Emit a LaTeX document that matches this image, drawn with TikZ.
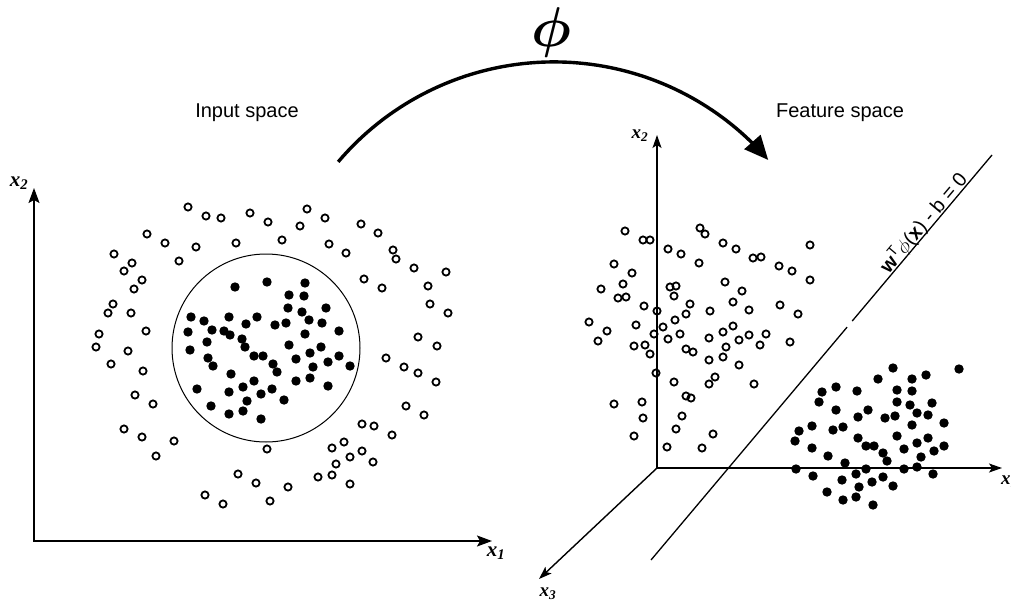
\RequirePackage{fix-cm}
\documentclass[tikz,border=0pt]{standalone}
\usepackage{bm}
\usepackage{fontspec}
\setmainfont{Liberation Sans}
\newfontfamily\tms{Liberation Serif}
\usetikzlibrary{arrows.meta,calc}
\begin{document}
\begin{tikzpicture}[x=1pt,y=-1pt,
  axisA/.style={line width=1.4pt,{Stealth[length=15pt,width=11pt,inset=3pt]}-{Stealth[length=15pt,width=11pt,inset=3pt]}},
  axisB/.style={line width=1.4pt,-{Stealth[length=13pt,width=9pt,inset=3pt]}},
  odot/.style={circle,draw,line width=1.8pt,minimum size=7.2pt,inner sep=0pt},
  fdot/.style={circle,fill,minimum size=9.4pt,inner sep=0pt},
  lab/.style={font=\tms\itshape\bfseries\fontsize{21}{21}\selectfont,inner sep=0pt},
  rlab/.style={font=\tms\itshape\bfseries\fontsize{19}{19}\selectfont,inner sep=0pt},
  title/.style={font=\fontsize{20}{20}\selectfont,inner sep=0pt},
  ]
\useasboundingbox (0,0) rectangle (1011,602);

% ---------- Input space ----------
\coordinate (O1) at (34,541);
\coordinate (Y1) at (34,188);
\coordinate (X1) at (492,541);
\draw[axisA] (Y1) -- (O1) -- (X1);
\node[lab] (lx2) at (19,183) {x\textsubscript{2}};
\node[lab] (lx1) at (496,553) {x\textsubscript{1}};
\node[title] (tin) at (247,113) {Input space};

\node[circle,draw,line width=1pt,minimum size=188pt,inner sep=0pt] (ring) at (266,348) {};

\foreach \p [count=\i] in {(188,207),(206,216),(221,218),(250,213),(268,222),(282,240),(147,234),(165,243),(196,247),(236,243),(114,254),(132,263),(124,271),(179,261),(142,280),(134,289),(113,304),(108,313),(131,313),(99,334),(146,331),(96,347),(128,351),(111,364),(143,371),(135,395),(153,404),(124,429),(142,437),(174,441),(156,456),(267,449),(238,474),(256,483),(205,495),(223,504),(270,501),
(307,209),(325,218),(300,226),(361,224),(378,233),(329,244),(346,253),(393,250),(396,259),(414,268),(446,272),(364,279),(382,288),(428,286),(430,304),(448,313),(418,337),
(437,346),(386,358),(404,367),(418,373),(436,382),(406,406),(424,415),(362,424),(374,426),(392,435),(344,442),(332,448),(362,451),(350,457),(336,464),(373,462),(318,477),(332,475),(350,484),(288,487)}
  \node[odot] (lo\i) at \p {};

\foreach \p [count=\i] in {(235,287),(267,282),(191,317),(204,321),(229,317),(257,317),(212,330),(188,332),(246,324),(275,325),(224,331),(230,335),(242,339),(207,342),
(190,350),(245,347),(208,358),(213,366),(254,356),(263,356),(273,364),(277,372),(231,374),(254,381),(243,387),(272,389),(197,389),(229,392),(261,394),(247,401),(211,406),(229,414),(243,411),(261,419),
(305,283),(289,295),(304,296),(288,308),(302,312),(326,308),(286,323),(309,320),(322,323),(305,334),(339,331),
(289,345),(321,347),(310,353),(296,359),(339,356),(328,362),(313,367),(350,366),(296,381),(310,378),(328,386),(284,400)}
  \node[fdot] (lf\i) at \p {};

% ---------- mapping arrow ----------
\draw[line width=3.4pt,-{Triangle[length=24pt,width=21pt]}]
  plot[domain=139.7:40.8,samples=60,smooth] ({554+283*cos(\x)},{344.9-283*sin(\x)});
\node[inner sep=0pt,font=\fontsize{56}{56}\selectfont] (phi) at (551,33) {$\bm{\phi}$};

% ---------- Feature space ----------
\node[title] (tfe) at (840,113) {Feature space};
\coordinate (O2) at (657,468);
\coordinate (Y2) at (657,135);
\coordinate (X2) at (1002,468);
\coordinate (Z2) at (539,579);
\draw[axisB] (O2) -- (Y2);
\draw[axisB] (O2) -- (X2);
\draw[axisB] (O2) -- (Z2);
\node[rlab] (rx2) at (640,136) {x\textsubscript{2}};
\node[rlab] (rx3) at (548,594) {x\textsubscript{3}};
\node[rlab,anchor=west] (rx1) at (1001,482) {x\textsubscript{1}};

\coordinate (H1) at (651,560);
\coordinate (H2) at (992,155);
\draw[line width=1.3pt] (H1) -- ($(H1)!0.575!(H2)$);
\draw[line width=1.3pt] ($(H1)!0.59!(H2)$) -- (H2);
\node[inner sep=0pt,anchor=base,rotate=49.9,font=\fontsize{20}{20}\selectfont] (hyp) at ($(H1)!0.82!(H2)+(-2,-1)$)
  {\textbf{w}\textsuperscript{T}$\phi$(\textbf{x}) - b = 0};

\foreach \p [count=\i] in {(625,231),(643,240),(650,240),(700,228),(705,234),(723,243),(736,249),(753,258),(761,257),(668,249),(681,254),(699,263),(614,264),(632,273),(601,289),(623,284),(618,298),(626,297),(670,287),(676,286),(674,296),(725,282),(742,291),(733,302),(644,306),(657,311),(690,304),(686,314),(710,311),(749,310),(589,322),(607,331),(636,325),(675,320),(663,327),(654,334),(680,334),(723,332),(733,326),(749,335),(598,341),(668,339),(709,338),(739,340),
(634,346),(645,345),(650,354),(686,349),(693,352),(709,360),(723,357),(726,347),(739,365),(656,373),(674,382),(715,377),(709,384),(754,384),(686,396),(691,398),(614,404),(642,402),(643,418),(682,416),(676,429),(634,436),(713,434),(667,447),(702,448),
(810,245),(779,266),(792,271),(810,280),(780,305),(798,314),(766,334),(760,345),(790,342)}
  \node[odot] (ro\i) at \p {};

\foreach \p [count=\i] in {(893,368),(959,369),(878,379),(912,379),(926,375),(822,392),(836,387),(857,391),(897,390),(912,391),(819,402),(897,402),(910,405),(932,403),(836,410),(868,410),(858,417),(885,418),(895,416),(917,413),(928,415),(944,423),(912,425),(812,426),(799,431),(833,430),(843,427),(795,441),(858,438),(897,436),(928,438),(917,443),(812,448),(866,446),(874,446),(904,449),(944,446),(934,451),(828,456),(883,453),(921,457),(887,461),(845,463),(796,469),(866,469),(904,469),(917,467),(813,476),(856,474),(883,477),(933,474),(842,480),(872,482),(893,486),(859,487),(827,492),(843,500),(856,497),(873,505)}
  \node[fdot] (rf\i) at \p {};
\end{tikzpicture}
\end{document}
